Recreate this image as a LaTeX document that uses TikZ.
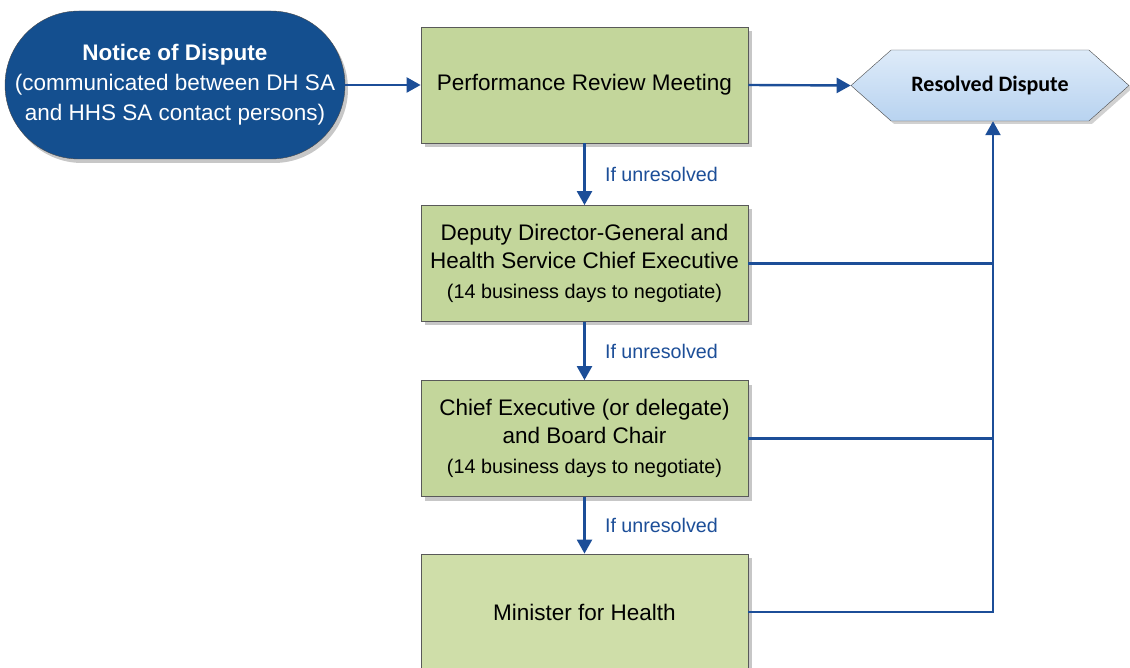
\documentclass[tikz,border=0pt]{standalone}
\usepackage{fontspec}
\setmainfont{Liberation Sans}
\newfontfamily\calibri{Carlito}
\usepackage{tikz}
\usetikzlibrary{positioning,arrows.meta,shapes.symbols,shadows}

\definecolor{nhsblue}{RGB}{20,79,143}
\definecolor{linkblue}{RGB}{28,78,152}
\definecolor{boxgreen}{RGB}{195,214,155}
\definecolor{palegreen}{RGB}{207,222,169}
\definecolor{hextop}{RGB}{222,235,249}
\definecolor{hexbot}{RGB}{184,211,240}

\tikzset{
  stage/.style={rectangle, draw=gray!70!black, line width=0.8pt, fill=boxgreen,
    minimum width=327pt, minimum height=116pt, align=center,
    font=\fontsize{22.5}{28}\selectfont,
    drop shadow={shadow xshift=4pt, shadow yshift=-4pt, fill=black!22, opacity=1}},
  flow/.style={draw=linkblue, line width=2.4pt, -{Triangle[length=14pt,width=15pt]}},
  link/.style={draw=linkblue, line width=2.4pt},
  note/.style={text=linkblue, font=\fontsize{19.7}{23}\selectfont, right=16pt, midway}
}
\newcommand{\daysnote}{{\fontsize{19.8}{23}\selectfont (14 business days to negotiate)}}

\begin{document}
\begin{tikzpicture}[x=1pt,y=-1pt]
\useasboundingbox (0,0) rectangle (1130,668);
% start and end
\node[draw=gray!60!black, fill=nhsblue, rounded corners=74pt, minimum width=340pt,
  minimum height=148pt, text=white, align=center, font=\fontsize{22.5}{30}\selectfont,
  drop shadow={shadow xshift=3pt, shadow yshift=-4pt, fill=black!22, opacity=1}]
  (notice) at (175,85) {\textbf{Notice of Dispute}\\(communicated between DH SA\\and HHS SA contact persons)};
\node[signal, signal to=west and east, signal pointer angle=83, draw=gray!60!black,
  top color=hextop, bottom color=hexbot, minimum width=278pt, minimum height=71pt,
  font=\calibri\bfseries\fontsize{22}{25}\selectfont,
  drop shadow={shadow xshift=3pt, shadow yshift=-3pt, fill=black!18, opacity=1}]
  (resolved) at (990,85.5) {Resolved Dispute};
% escalation steps
\node[stage] (review) at (584.5,85) {Performance Review Meeting};
\node[stage] (ddg) at (584.5,263.5) {Deputy Director-General and\\Health Service Chief Executive\\[2pt]\daysnote};
\node[stage] (ceo) at (584.5,438.5) {Chief Executive (or delegate)\\and Board Chair\\[2pt]\daysnote};
\node[stage, fill=palegreen] (minister) at (584.5,612) {Minister for Health};
% arrows
\draw[flow] (notice.east) -- (review.west);
\draw[flow] (review.east) -- (resolved.west);
\draw[flow] (review) -- node[note] {If unresolved} (ddg);
\draw[flow] (ddg) -- node[note] {If unresolved} (ceo);
\draw[flow] (ceo) -- node[note] {If unresolved} (minister);
% back to resolved
\coordinate (rail) at ([xshift=3pt]resolved.south);
\draw[flow] (minister.east) -| (rail);
\draw[link] (ddg.east) -- (ddg.east -| rail);
\draw[link] (ceo.east) -- (ceo.east -| rail);
\end{tikzpicture}
\end{document}
